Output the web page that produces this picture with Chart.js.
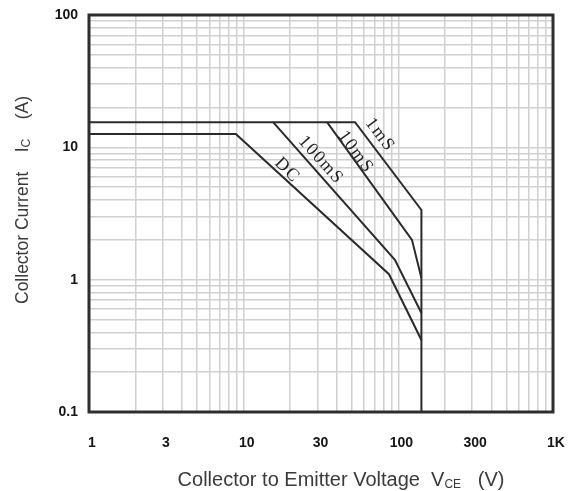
<!DOCTYPE html>
<html>
<head>
<meta charset="utf-8">
<script src="https://cdn.jsdelivr.net/npm/chart.js@4/dist/chart.umd.min.js"></script>
<style>
  html, body { margin: 0; padding: 0; background: #fff; }
  #wrap { width: 568px; height: 491px; position: relative; }
</style>
</head>
<body>
<div id="wrap"><canvas id="c"></canvas></div>
<script>
// ---- Data ----
const xTickValues = [1, 3, 10, 30, 100, 300, 1000];
const xTickLabels = ['1', '3', '10', '30', '100', '300', '1K'];
const yTickValues = [0.1, 1, 10, 100];
const yTickLabels = ['0.1', '1', '10', '100'];

const seriesNames = ['1mS', '10mS', '100mS', 'DC'];
const ms1X   = [1, 52.5, 141, 141];
const ms1Y   = [15.5, 15.5, 3.36, 0.1];
const ms10X  = [34.6, 122.5, 141];
const ms10Y  = [15.5, 2.0, 1.03];
const ms100X = [15.5, 95, 141];
const ms100Y = [15.5, 1.41, 0.56];
const dcX    = [1, 8.9, 87, 141];
const dcY    = [12.6, 12.6, 1.10, 0.35];

// label anchor positions (data coordinates) for the curve names
const labelX = [76, 53, 31.6, 19.1];
const labelY = [12.4, 9.2, 8.0, 6.7];

// ---- build ----
const xs = [ms1X, ms10X, ms100X, dcX];
const ys = [ms1Y, ms10Y, ms100Y, dcY];
const labelAngles = [53, 54, 48, 45];

function gridValues(min, max) {
  const out = [];
  for (let e = Math.round(Math.log10(min)); e < Math.round(Math.log10(max)); e++) {
    for (let m = 1; m < 10; m++) out.push(m * Math.pow(10, e));
  }
  out.push(max);
  return out;
}

const datasets = seriesNames.map((n, i) => ({
  label: n,
  data: xs[i].map((x, j) => ({ x: x, y: ys[i][j] })),
  borderColor: '#2a2a2a',
  borderWidth: 2,
  pointRadius: 0,
  showLine: true,
  tension: 0,
  fill: false
}));

const framePlugin = {
  id: 'frame',
  afterDraw(chart) {
    const { ctx, chartArea: a, scales } = chart;
    ctx.save();
    // frame
    ctx.strokeStyle = '#2e2e2e';
    ctx.lineWidth = 3;
    ctx.strokeRect(a.left, a.top, a.right - a.left, a.bottom - a.top);

    // curve names
    ctx.fillStyle = '#1e1e1e';
    ctx.font = '18px "Liberation Serif", "DejaVu Serif", serif';
    ctx.letterSpacing = '1.5px';
    ctx.textAlign = 'center';
    ctx.textBaseline = 'middle';
    seriesNames.forEach((n, i) => {
      const px = scales.x.getPixelForValue(labelX[i]);
      const py = scales.y.getPixelForValue(labelY[i]);
      ctx.save();
      ctx.translate(px, py);
      ctx.rotate(labelAngles[i] * Math.PI / 180);
      ctx.fillText(n, 0, 0);
      ctx.restore();
    });
    ctx.letterSpacing = '0px';

    // axis titles with subscripts
    function drawParts(parts, cx, cy) {
      let total = 0;
      parts.forEach(p => { ctx.font = p[1] + 'px "Liberation Sans", Arial, sans-serif'; p.w = ctx.measureText(p[0]).width; total += p.w; });
      let x = cx - total / 2;
      ctx.textAlign = 'left';
      ctx.textBaseline = 'alphabetic';
      parts.forEach(p => {
        ctx.font = p[1] + 'px "Liberation Sans", Arial, sans-serif';
        ctx.fillText(p[0], x, cy + p[2]);
        x += p.w;
      });
    }
    ctx.fillStyle = '#3a3a3a';
    drawParts([['Collector to Emitter Voltage  V', 20, 0], ['CE', 12, 2], ['   (V)', 20, 0]], 341, 486);
    ctx.save();
    ctx.translate(28, 200);
    ctx.rotate(-Math.PI / 2);
    drawParts([['Collector Current    I', 17.5, 0], ['C', 12, 2], ['    (A)', 17.5, 0]], 0, 0);
    ctx.restore();
    ctx.restore();
  }
};

new Chart(document.getElementById('c'), {
  type: 'scatter',
  data: { datasets },
  options: {
    responsive: true,
    maintainAspectRatio: false,
    animation: false,
    layout: { padding: { top: 15, right: 15, left: 0, bottom: 0 } },
    plugins: { legend: { display: false }, tooltip: { enabled: false } },
    scales: {
      x: {
        type: 'logarithmic',
        min: 1, max: 1000,
        afterBuildTicks: s => { s.ticks = gridValues(1, 1000).map(v => ({ value: v })); },
        afterFit: s => { s.height = 79; s.paddingLeft = 0; s.paddingRight = 0; },
        grid: { color: '#d0d0d0', lineWidth: 1.5, drawTicks: false },
        border: { display: false },
        ticks: {
          autoSkip: false, maxRotation: 0, padding: 23, labelOffset: 3,
          color: '#151515',
          font: { family: '"Liberation Sans", Arial, sans-serif', size: 14, weight: 'bold' },
          callback: v => { const k = xTickValues.findIndex(t => Math.abs(t - v) < 1e-9 * t); return k >= 0 ? xTickLabels[k] : ''; }
        }
      },
      y: {
        type: 'logarithmic',
        min: 0.1, max: 100,
        afterBuildTicks: s => { s.ticks = gridValues(0.1, 100).map(v => ({ value: v })); },
        afterFit: s => { s.width = 89; s.paddingTop = 0; s.paddingBottom = 0; },
        grid: { color: '#d0d0d0', lineWidth: 1.5, drawTicks: false },
        border: { display: false },
        ticks: {
          autoSkip: false, padding: 11,
          color: '#151515',
          font: { family: '"Liberation Sans", Arial, sans-serif', size: 14, weight: 'bold' },
          callback: v => { const k = yTickValues.findIndex(t => Math.abs(t - v) < 1e-9 * t); return k >= 0 ? yTickLabels[k] : ''; }
        }
      }
    }
  },
  plugins: [framePlugin]
});
</script>
</body>
</html>
